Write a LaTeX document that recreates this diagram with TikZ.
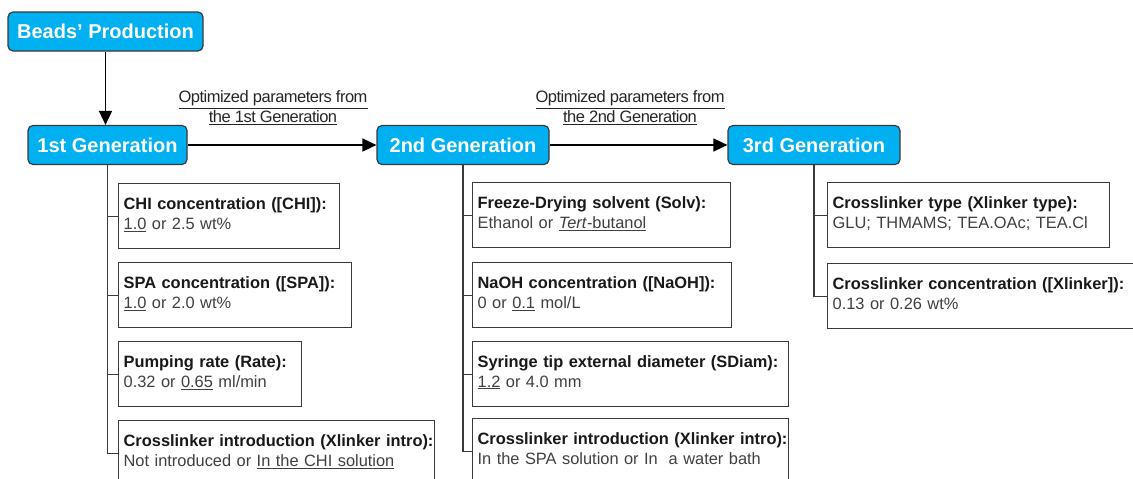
\documentclass[tikz,border=0pt]{standalone}
\usepackage{fontspec}
\setmainfont{Liberation Sans}
\newfontfamily\notefont[LetterSpace=-3]{Liberation Sans}
\usetikzlibrary{arrows.meta,positioning}
\definecolor{gencyan}{HTML}{00B0F0}
\definecolor{edgegray}{HTML}{3A3A3A}
\definecolor{valgray}{HTML}{404040}
% one parameter box: bold name on the first line, values below
\newcommand{\param}[2]{\rule{0pt}{12pt}\mbox{\bfseries #1}\\\mbox{\color{valgray}#2}\rule[-6pt]{0pt}{6pt}}
\tikzset{
 genbox/.style={draw=edgegray, line width=1.2pt, fill=gencyan, rounded corners=5pt,
   text=white, font=\fontsize{20}{24}\selectfont\bfseries, minimum height=39pt, inner sep=0pt},
 factor/.style={draw=edgegray, line width=1.3pt, fill=white, anchor=north west,
   minimum height=65pt, inner xsep=5pt, inner ysep=0pt, text width=#1, align=left,
   text=black!90, font=\fontsize{16.4}{20}\selectfont},
 flow/.style={line width=1.6pt, -{Triangle[length=14pt,width=13pt]}},
 tree/.style={draw=edgegray, line width=1.2pt},
 note/.style={font=\notefont\fontsize{16.5}{20}\selectfont, align=center, text=black!85}
}
\begin{document}
\begin{tikzpicture}[x=1pt,y=-1pt]
 \useasboundingbox (0,0) rectangle (1133,479);
 \clip (0,0) rectangle (1133,479);
 % generations
 \node[genbox,minimum width=195pt] (beads) at (105.5,31.5) {Beads’ Production};
 \node[genbox,minimum width=159pt] (gen1) at (107.5,145) {1st Generation};
 \node[genbox,minimum width=172pt] (gen2) at (463,145) {2nd Generation};
 \node[genbox,minimum width=172pt] (gen3) at (814,145) {3rd Generation};
 \draw[flow] (beads.south) -- (beads.south |- gen1.north);
 \draw[flow] (gen1) -- (gen2);
 \draw[flow] (gen2) -- (gen3);
 \node[note] (opt1) at (273,108) {\underline{Optimized parameters from}\\\underline{the 1st Generation}};
 \node[note] (opt2) at (630,108) {\underline{Optimized parameters from}\\\underline{the 2nd Generation}};
 % 1st generation parameters
 \node[factor=211pt] (chi) at (118,183) {\param{CHI concentration ([CHI]):}{\underline{1.0} or 2.5 wt\%}};
 \node[factor=223pt] (spa) at (118,262) {\param{SPA concentration ([SPA]):}{\underline{1.0} or 2.0 wt\%}};
 \node[factor=173pt] (rate) at (118,341) {\param{Pumping rate (Rate):}{0.32 or \underline{0.65} ml/min}};
 \node[factor=306pt] (xin1) at (118,420) {\param{Crosslinker introduction (Xlinker intro):}{Not introduced or \underline{In the CHI solution}}};
 % 2nd generation parameters
 \node[factor=248pt] (solv) at (472,182) {\param{Freeze-Drying solvent (Solv):}{Ethanol or \underline{\textit{Tert}-butanol}}};
 \node[factor=249pt] (naoh) at (472,262) {\param{NaOH concentration ([NaOH]):}{0 or \underline{0.1} mol/L}};
 \node[factor=306pt] (sdiam) at (472,341) {\param{Syringe tip external diameter (SDiam):}{\underline{1.2} or 4.0 mm}};
 \node[factor=306pt] (xin2) at (472,418) {\param{Crosslinker introduction (Xlinker intro):}{In the SPA solution or In~ a water bath}};
 % 3rd generation parameters
 \node[factor=272pt] (xtype) at (827,182) {\param{Crosslinker type (Xlinker type):}{GLU; THMAMS; TEA.OAc; TEA.Cl}};
 \node[factor=305pt] (xconc) at (827,263) {\param{Crosslinker concentration ([Xlinker]):}{0.13 or 0.26 wt\%}};
 % tree lines
 \foreach \b in {chi,spa,rate,xin1} \draw[tree] (gen1.south) |- (\b.west);
 \foreach \b in {solv,naoh,sdiam,xin2} \draw[tree] (gen2.south) |- (\b.west);
 \foreach \b in {xtype,xconc} \draw[tree] (gen3.south) |- (\b.west);
\end{tikzpicture}
\end{document}
